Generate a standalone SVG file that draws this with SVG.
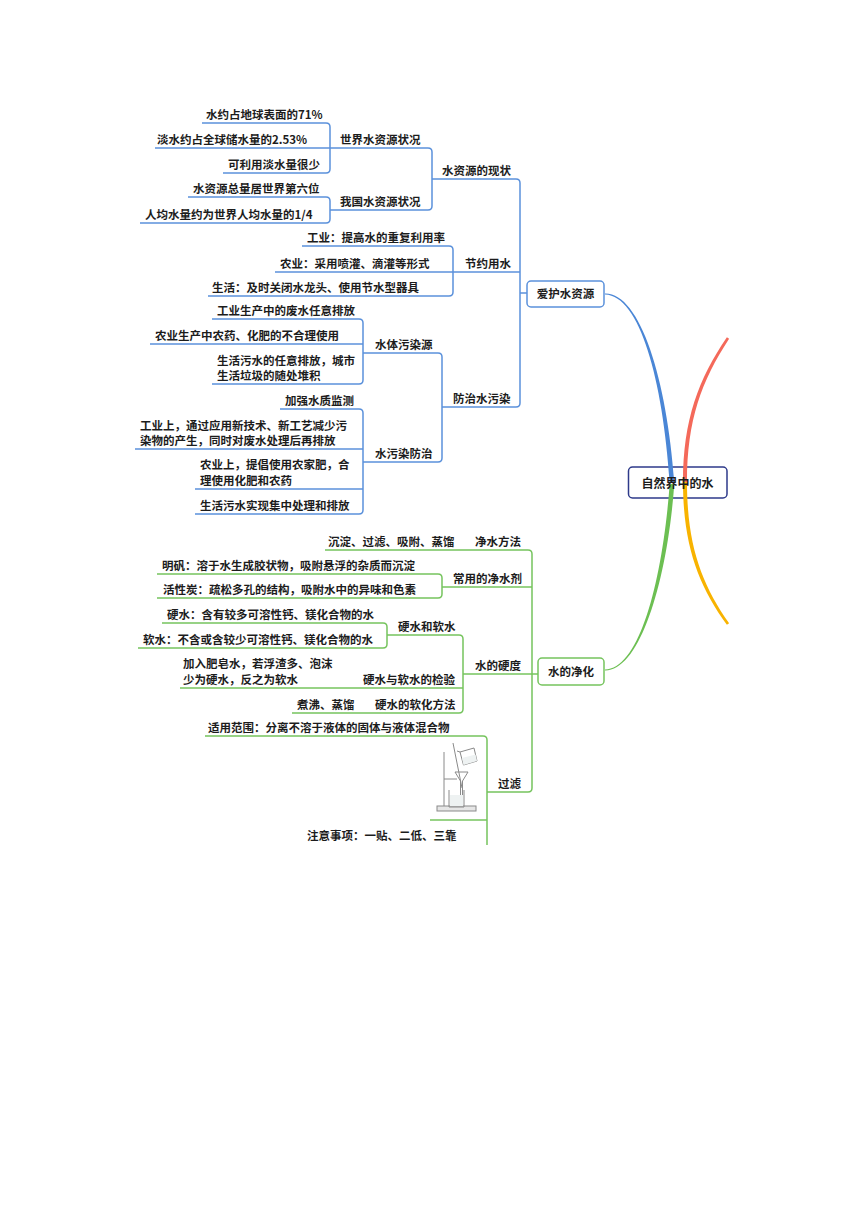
<svg xmlns="http://www.w3.org/2000/svg" width="860" height="1216" viewBox="0 0 860 1216">
<style>
  text { font-family: "Noto Sans CJK SC", "Noto Sans", sans-serif; font-size: 11.5px; font-weight: bold; fill: #1c1c1c; }
  .c { text-anchor: middle; }
  .bl { fill: none; stroke: #5b91db; stroke-width: 1.5; }
  .gr { fill: none; stroke: #76c45e; stroke-width: 1.5; }
  .app { fill: none; stroke: #8a8a8a; stroke-width: 1; }
</style>
<rect width="860" height="1216" fill="#ffffff"/>

<g id="connectors">
  <!-- blue tree -->
  <path class="bl" d="M202,123 H326 Q330,123 330,127 V169 Q330,173 326,173 H223"/>
  <path class="bl" d="M155,148 H330"/>
  <path class="bl" d="M330,148 H428 Q432,148 432,152 V206 Q432,210 428,210 H330"/>
  <path class="bl" d="M188,197 H326 Q330,197 330,201 V219 Q330,223 326,223 H140"/>
  <path class="bl" d="M432,179 H516 Q520,179 520,183 V403 Q520,407 516,407 H442"/>
  <path class="bl" d="M302,246 H449 Q453,246 453,250 V292 Q453,296 449,296 H208"/>
  <path class="bl" d="M275,272 H520"/>
  <path class="bl" d="M520,293 H527"/>
  <path class="bl" d="M212,319 H359 Q363,319 363,323 V380 Q363,384 359,384 H212"/>
  <path class="bl" d="M150,344 H363"/>
  <path class="bl" d="M363,353 H438 Q442,353 442,357 V458 Q442,462 438,462 H363"/>
  <path class="bl" d="M280,409 H359 Q363,409 363,413 V510 Q363,514 359,514 H195"/>
  <path class="bl" d="M135,449 H363"/>
  <path class="bl" d="M195,489 H363"/>
  <!-- green tree -->
  <path class="gr" d="M325,550 H528 Q532,550 532,554 V788 Q532,792 528,792 H487"/>
  <path class="gr" d="M442,587 H532"/>
  <path class="gr" d="M463,674 H538"/>
  <path class="gr" d="M157,574 H438 Q442,574 442,578 V594 Q442,598 438,598 H157"/>
  <path class="gr" d="M162,623 H383 Q387,623 387,627 V644 Q387,648 383,648 H138"/>
  <path class="gr" d="M387,635 H459 Q463,635 463,639 V709 Q463,713 459,713 H292"/>
  <path class="gr" d="M180,688 H463"/>
  <path class="gr" d="M205,736 H483 Q487,736 487,740 V845"/>
  <path class="gr" d="M430,820 H487"/>
</g>

<g id="root">
  <rect x="628.5" y="467" width="98.5" height="31" rx="4" fill="#ffffff" stroke="#2e3a8a" stroke-width="1.5"/>
</g>

<g id="branches">
  <path fill="#4a86d6" d="M605,293.4 C640,292.6 667,379 674.3,482 L669.7,482 C663,381 640,295.4 605,294.6 Z"/>
  <path fill="#6cbf52" d="M669.7,484 L674.3,484 C667.3,581 640,671.2 605,670.4 L605,669.6 C640,668.8 662.7,579 669.7,484 Z"/>
  <path fill="#f4695a" d="M683,482 C683,420 698.5,379 726.9,337.3 L729.1,338.7 C701.5,381 687,420 687,482 Z"/>
  <path fill="#f8b300" d="M683,482 C683,545 698.5,586 726.9,624.7 L729.1,623.3 C701.5,584 687,545 687,482 Z"/>
</g>

<g id="node-root-text">
  <text class="c" x="677.5" y="488" style="font-size:12px">自然界中的水</text>
</g>

<g id="node-aihu">
  <rect x="527" y="281" width="77" height="26" rx="4" fill="#ffffff" stroke="#5b91db" stroke-width="1.5"/>
  <text class="c" x="565.5" y="298">爱护水资源</text>
</g>

<g id="node-xianzhuang">
  <text x="442" y="175">水资源的现状</text>
</g>
<g id="node-shijie">
  <text x="340" y="144">世界水资源状况</text>
  <text x="206" y="119">水约占地球表面的71%</text>
  <text x="157" y="144">淡水约占全球储水量的2.53%</text>
  <text x="228" y="169">可利用淡水量很少</text>
</g>
<g id="node-woguo">
  <text x="340" y="206">我国水资源状况</text>
  <text x="193" y="193">水资源总量居世界第六位</text>
  <text x="145" y="219">人均水量约为世界人均水量的1/4</text>
</g>
<g id="node-jieyue">
  <text x="465" y="268">节约用水</text>
  <text x="307" y="242">工业：提高水的重复利用率</text>
  <text x="280" y="268">农业：采用喷灌、滴灌等形式</text>
  <text x="212" y="292">生活：及时关闭水龙头、使用节水型器具</text>
</g>
<g id="node-fangzhi">
  <text x="453" y="403">防治水污染</text>
</g>
<g id="node-wuranyuan">
  <text x="375" y="349">水体污染源</text>
  <text x="217" y="315">工业生产中的废水任意排放</text>
  <text x="155" y="340">农业生产中农药、化肥的不合理使用</text>
  <text x="217" y="365">生活污水的任意排放，城市</text>
  <text x="217" y="380">生活垃圾的随处堆积</text>
</g>
<g id="node-wuranfangzhi">
  <text x="375" y="458">水污染防治</text>
  <text x="285" y="405">加强水质监测</text>
  <text x="140" y="430">工业上，通过应用新技术、新工艺减少污</text>
  <text x="140" y="445">染物的产生，同时对废水处理后再排放</text>
  <text x="200" y="469">农业上，提倡使用农家肥，合</text>
  <text x="200" y="485">理使用化肥和农药</text>
  <text x="200" y="510">生活污水实现集中处理和排放</text>
</g>

<g id="node-jinghua">
  <rect x="538" y="658" width="66" height="27" rx="4" fill="#ffffff" stroke="#76c45e" stroke-width="1.5"/>
  <text class="c" x="571" y="676">水的净化</text>
</g>
<g id="node-fangfa">
  <text x="475" y="546">净水方法</text>
  <text x="328" y="546">沉淀、过滤、吸附、蒸馏</text>
</g>
<g id="node-jingshuiji">
  <text x="453" y="583">常用的净水剂</text>
  <text x="162" y="570">明矾：溶于水生成胶状物，吸附悬浮的杂质而沉淀</text>
  <text x="163" y="594">活性炭：疏松多孔的结构，吸附水中的异味和色素</text>
</g>
<g id="node-yingdu">
  <text x="475" y="670">水的硬度</text>
</g>
<g id="node-yingruan">
  <text x="398" y="631">硬水和软水</text>
  <text x="167" y="619">硬水：含有较多可溶性钙、镁化合物的水</text>
  <text x="143" y="644">软水：不含或含较少可溶性钙、镁化合物的水</text>
</g>
<g id="node-jianyan">
  <text x="363" y="684">硬水与软水的检验</text>
  <text x="183" y="668">加入肥皂水，若浮渣多、泡沫</text>
  <text x="183" y="684">少为硬水，反之为软水</text>
</g>
<g id="node-ruanhua">
  <text x="375" y="709">硬水的软化方法</text>
  <text x="297" y="709">煮沸、蒸馏</text>
</g>
<g id="node-guolv">
  <text x="498" y="788">过滤</text>
  <text x="208" y="732">适用范围：分离不溶于液体的固体与液体混合物</text>
  <text x="307" y="840">注意事项：一贴、二低、三靠</text>
</g>
<g id="node-apparatus">
  <rect x="437" y="806" width="39" height="5" fill="#e6e6e6" stroke="#8a8a8a" stroke-width="1"/>
  <line class="app" x1="444" y1="752" x2="444" y2="806" stroke-width="1.5"/>
  <line class="app" x1="444" y1="779" x2="457" y2="779"/>
  <path class="app" d="M455,772 L468,772 L462.5,781 L462.5,797 M455,772 L460.5,781 L460.5,797"/>
  <path d="M450,795 H463 V806 H450 Z" fill="#eef2f2"/>
  <path class="app" d="M449,790 V807 H464 V790"/>
  <line class="app" x1="453" y1="743" x2="462" y2="788"/>
  <path class="app" d="M460,752 L474,748 L477,761 L463.5,765 Z M460,752 L457,751"/>
  <path d="M462,758 L475.5,754.5 L477,761 L463.5,765 Z" fill="#eef2f2"/>
</g>
</svg>
